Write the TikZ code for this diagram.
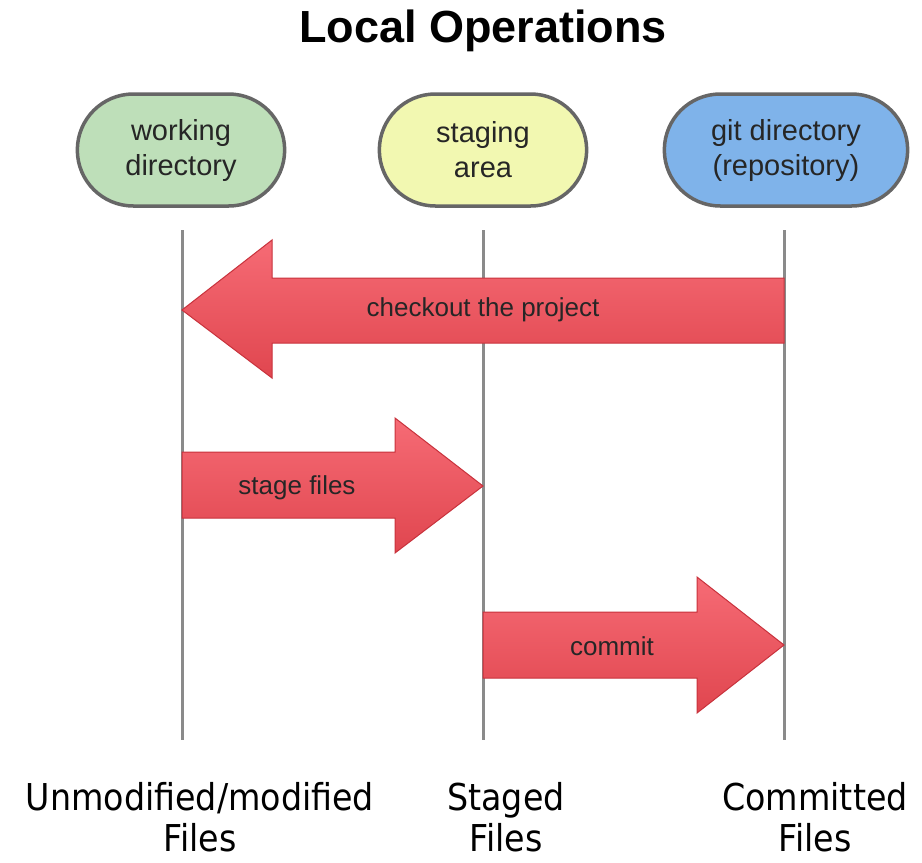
\documentclass[tikz,border=0pt]{standalone}
\usepackage{fontspec}
\setmainfont{Liberation Sans}
\newfontfamily\labelfont{DejaVu Sans Condensed}
\usetikzlibrary{shapes.misc}
\definecolor{greenbox}{HTML}{BEDFB9}
\definecolor{yellowbox}{HTML}{F2F8B1}
\definecolor{bluebox}{HTML}{7FB3EA}
\definecolor{boxborder}{HTML}{666666}
\definecolor{lanegray}{HTML}{8A8A8A}
\definecolor{arrtop}{HTML}{F66B75}
\definecolor{arrbot}{HTML}{E0464F}
\definecolor{arrline}{HTML}{C8323C}
\begin{document}
\begin{tikzpicture}[x=1pt,y=-1pt,
  areabox/.style={rounded rectangle, draw=boxborder, line width=3.5pt, minimum width=214pt, minimum height=112pt, align=center, font=\fontsize{29}{35}\selectfont, text=black!85},
  lane/.style={draw=lanegray, line width=3pt},
  bigarrow/.style={draw=arrline, line width=1pt, top color=arrtop, bottom color=arrbot, line join=miter},
  arrowlabel/.style={font=\fontsize{26}{30}\selectfont, text=black!85},
  filelabel/.style={font=\labelfont\fontsize{37}{41}\selectfont, align=center, anchor=base, inner sep=0pt}]
\useasboundingbox (0,0) rectangle (922,863);
\node[font=\bfseries\fontsize{45}{50}\selectfont] (title) at (483,31) {Local Operations};
\node[areabox, fill=greenbox] (wd) at (181,150) {working\\directory};
\node[areabox, fill=yellowbox] (sa) at (483,150) {staging\\area};
\node[areabox, fill=bluebox, minimum width=250pt] (gd) at (786,150) {git directory\\(repository)};
\coordinate (wdtop) at (182,230);
\coordinate (wdbot) at (182,740);
\coordinate (satop) at (483,230);
\coordinate (sabot) at (483,740);
\coordinate (gdtop) at (784,230);
\coordinate (gdbot) at (784,740);
\draw[lane] (wdtop) -- (wdbot);
\draw[lane] (satop) -- (sabot);
\draw[lane] (gdtop) -- (gdbot);
% checkout arrow
\draw[bigarrow] (784,278) -- (272,278) -- (272,240) -- (182,310) -- (272,378) -- (272,343) -- (784,343) -- cycle;
\node[arrowlabel] (co) at (483,310) {checkout the project};
% stage arrow
\draw[bigarrow] (182,452) -- (395,452) -- (395,418) -- (483,486) -- (395,553) -- (395,518) -- (182,518) -- cycle;
\node[arrowlabel] (st) at (297,488) {stage files};
% commit arrow
\draw[bigarrow] (483,612) -- (697,612) -- (697,577) -- (784,645) -- (697,713) -- (697,678) -- (483,678) -- cycle;
\node[arrowlabel] (cm) at (612,646) {commit};
\node[filelabel] (f1) at (200,851) {Unmodified/modified\\Files};
\node[filelabel] (f2) at (506,851) {Staged\\Files};
\node[filelabel] (f3) at (815,851) {Committed\\Files};
\end{tikzpicture}
\end{document}
